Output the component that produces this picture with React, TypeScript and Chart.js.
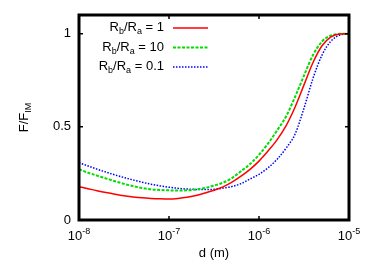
import React, { useEffect, useRef } from "react";
import { Chart, registerables } from "chart.js";

Chart.register(...registerables);

// d (m) sample positions
const D_VALUES = [
  1.0e-8, 1.259e-8, 1.585e-8, 1.995e-8, 2.512e-8, 3.162e-8, 3.981e-8, 5.012e-8, 6.31e-8, 7.943e-8,
  1.0e-7, 1.259e-7, 1.585e-7, 1.995e-7, 2.512e-7, 3.162e-7, 3.981e-7, 5.012e-7, 6.31e-7, 7.943e-7,
  1.0e-6, 1.259e-6, 1.585e-6, 1.995e-6, 2.512e-6, 3.162e-6, 3.981e-6, 5.012e-6, 6.31e-6, 7.943e-6,
  1.0e-5,
];

// F/F_IM for R_b/R_a = 1
const RATIO_1 = [
  0.179, 0.168, 0.157, 0.147, 0.138, 0.130, 0.124, 0.119, 0.116, 0.114,
  0.113, 0.116, 0.122, 0.132, 0.145, 0.16, 0.178, 0.203, 0.235, 0.272,
  0.316, 0.37, 0.43, 0.505, 0.605, 0.725, 0.845, 0.935, 0.983, 0.998,
  1.0,
];

// F/F_IM for R_b/R_a = 10
const RATIO_10 = [
  0.272, 0.254, 0.238, 0.223, 0.208, 0.194, 0.182, 0.172, 0.165, 0.161,
  0.159, 0.158, 0.159, 0.164, 0.172, 0.185, 0.2, 0.225, 0.262, 0.3,
  0.35, 0.41, 0.48, 0.555, 0.66, 0.775, 0.885, 0.958, 0.99, 0.999,
  1.0,
];

// F/F_IM for R_b/R_a = 0.1
const RATIO_01 = [
  0.308, 0.29, 0.273, 0.257, 0.242, 0.228, 0.215, 0.203, 0.192, 0.183,
  0.176, 0.17, 0.166, 0.164, 0.163, 0.165, 0.171, 0.18, 0.195, 0.22,
  0.245, 0.28, 0.325, 0.385, 0.46, 0.6, 0.76, 0.885, 0.96, 0.993,
  1.0,
];

const X_TICKS = [1e-8, 1e-7, 1e-6, 1e-5];
const X_TICK_EXPONENTS = ["-8", "-7", "-6", "-5"];
const Y_TICKS = [0, 0.5, 1];
const Y_TICK_LABELS = ["0", "0.5", "1"];
const LEGEND_VALUES = ["1", "10", "0.1"];

const FONT = "Liberation Sans, Arial, sans-serif";
const MAIN = 13;
const SMALL = 9;

type Part = { t: string; sub?: boolean; sup?: boolean };

function richWidth(ctx: CanvasRenderingContext2D, parts: Part[]) {
  let w = 0;
  for (const p of parts) {
    ctx.font = `${p.sub || p.sup ? SMALL : MAIN}px ${FONT}`;
    w += ctx.measureText(p.t).width;
  }
  return w;
}

function drawRich(
  ctx: CanvasRenderingContext2D,
  parts: Part[],
  x: number,
  y: number,
  align: "left" | "right" | "center"
) {
  const w = richWidth(ctx, parts);
  let cx = align === "left" ? x : align === "right" ? x - w : x - w / 2;
  ctx.textAlign = "left";
  ctx.textBaseline = "alphabetic";
  for (const p of parts) {
    ctx.font = `${p.sub || p.sup ? SMALL : MAIN}px ${FONT}`;
    const dy = p.sub ? 3 : p.sup ? -6 : 0;
    ctx.fillText(p.t, cx, y + dy);
    cx += ctx.measureText(p.t).width;
  }
}

const COLORS = ["#ff0000", "#00dd00", "#0000ff"];
const DASHES: number[][] = [[], [3, 1.5], [1.5, 1.5]];
const WIDTHS = [1.5, 2, 1.5];

const decorPlugin = {
  id: "decor",
  afterDraw(chart: any) {
    const ctx: CanvasRenderingContext2D = chart.ctx;
    const { left, right, top, bottom } = chart.chartArea;
    const xs = chart.scales.x;
    const ys = chart.scales.y;
    ctx.save();
    ctx.fillStyle = "#000";
    ctx.strokeStyle = "#000";

    // tick marks
    ctx.lineWidth = 1.5;
    ctx.beginPath();
    for (const v of X_TICKS) {
      const px = xs.getPixelForValue(v);
      ctx.moveTo(px, bottom);
      ctx.lineTo(px, bottom - 4);
      ctx.moveTo(px, top);
      ctx.lineTo(px, top + 4);
    }
    for (const v of Y_TICKS) {
      const py = ys.getPixelForValue(v);
      ctx.moveTo(left, py);
      ctx.lineTo(left + 4, py);
      ctx.moveTo(right, py);
      ctx.lineTo(right - 4, py);
    }
    ctx.stroke();

    // frame
    ctx.lineWidth = 3;
    ctx.strokeRect(left, top, right - left, bottom - top);

    // y tick labels
    ctx.font = `${MAIN}px ${FONT}`;
    ctx.textAlign = "right";
    ctx.textBaseline = "middle";
    Y_TICKS.forEach((v, i) => {
      ctx.fillText(Y_TICK_LABELS[i], left - 8, ys.getPixelForValue(v));
    });

    // x tick labels
    X_TICKS.forEach((v, i) => {
      const px = xs.getPixelForValue(v);
      drawRich(ctx, [{ t: "10" }, { t: X_TICK_EXPONENTS[i], sup: true }], px, bottom + 20, "center");
    });

    // x title
    drawRich(ctx, [{ t: "d (m)" }], (left + right) / 2, 257, "center");

    // y title
    ctx.save();
    ctx.translate(28, (top + bottom) / 2);
    ctx.rotate(-Math.PI / 2);
    drawRich(ctx, [{ t: "F/F" }, { t: "IM", sub: true }], 0, 0, "center");
    ctx.restore();

    // legend
    const rowBase = [31, 50.5, 70];
    LEGEND_VALUES.forEach((val, i) => {
      ctx.fillStyle = "#000";
      drawRich(
        ctx,
        [{ t: "R" }, { t: "b", sub: true }, { t: "/R" }, { t: "a", sub: true }, { t: ` = ${val}` }],
        164,
        rowBase[i],
        "right"
      );
      ctx.beginPath();
      ctx.strokeStyle = COLORS[i];
      ctx.lineWidth = WIDTHS[i];
      ctx.setLineDash(DASHES[i]);
      const ly = rowBase[i] - 3;
      ctx.moveTo(173, ly);
      ctx.lineTo(208, ly);
      ctx.stroke();
      ctx.setLineDash([]);
    });

    ctx.restore();
  },
};

export default function App() {
  const ref = useRef<HTMLCanvasElement | null>(null);

  useEffect(() => {
    if (!ref.current) return;
    const mk = (vals: number[]) => D_VALUES.map((d, i) => ({ x: d, y: vals[i] }));
    const series = [RATIO_1, RATIO_10, RATIO_01];
    const chart = new Chart(ref.current, {
      type: "line",
      data: {
        datasets: series.map((vals, i) => ({
          label: `R_b/R_a = ${LEGEND_VALUES[i]}`,
          data: mk(vals),
          borderColor: COLORS[i],
          borderWidth: WIDTHS[i],
          borderDash: DASHES[i],
          pointRadius: 0,
          fill: false,
          cubicInterpolationMode: "monotone" as const,
        })),
      },
      options: {
        animation: false,
        responsive: false,
        devicePixelRatio: 1,
        layout: { padding: { left: 79, right: 25, top: 15, bottom: 42 } },
        plugins: { legend: { display: false }, tooltip: { enabled: false } },
        scales: {
          x: { type: "logarithmic", min: 1e-8, max: 1e-5, display: false },
          y: { type: "linear", min: 0, max: 1.1, display: false },
        },
      },
      plugins: [decorPlugin],
    });
    return () => chart.destroy();
  }, []);

  return (
    <div style={{ position: "fixed", left: 0, top: 0, width: 374, height: 262, background: "#fff" }}>
      <canvas ref={ref} width={374} height={262} />
    </div>
  );
}
